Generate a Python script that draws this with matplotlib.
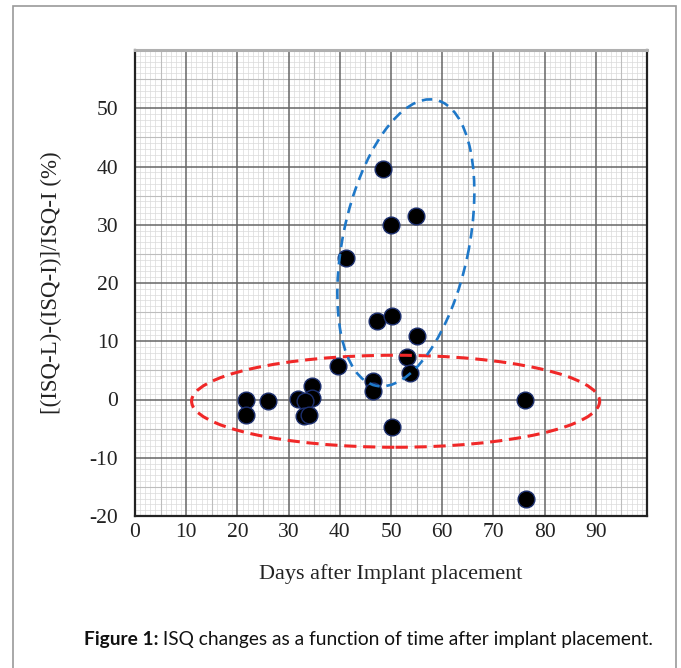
import matplotlib
matplotlib.use("Agg")
import matplotlib.pyplot as plt
from matplotlib.patches import Ellipse, Rectangle
from matplotlib.transforms import Affine2D, IdentityTransform
import numpy as np

# ---- data ----
days = [48.5, 50.0, 54.8, 41.3, 47.2, 50.1, 55.0, 53.2, 39.6, 53.7, 46.4, 46.4,
        21.7, 21.7, 26.0, 31.8, 34.6, 34.6, 33.3, 33.0, 34.0, 50.1, 76.1, 76.3]
isq_change = [39.6, 30.0, 31.5, 24.3, 13.4, 14.4, 10.9, 7.3, 5.8, 4.5, 3.2, 1.5,
              0.0, -2.7, -0.3, 0.1, 2.3, 0.2, -0.3, -2.9, -2.6, -4.7, 0.0, -17.0]
x_ticks = [0, 10, 20, 30, 40, 50, 60, 70, 80, 90]
y_ticks = [-20, -10, 0, 10, 20, 30, 40, 50]
xlabel = "Days after Implant placement"
ylabel = "[(ISQ-L)-(ISQ-I)]/ISQ-I (%)"
caption_bold = "Figure 1:"
caption_rest = " ISQ changes as a function of time after implant placement."

W, H = 681, 668
fig = plt.figure(figsize=(W / 100, H / 100), dpi=100)

# outer frame
fig.patches.append(Rectangle((13 / W, -0.01), (676 - 13) / W, 1.01 - 6 / H,
                             transform=fig.transFigure, fill=False,
                             edgecolor="#9a9a9a", linewidth=1.2))

L, R, T, B = 135, 647, 50, 516
ax = fig.add_axes([L / W, 1 - B / H, (R - L) / W, (B - T) / H])
ax.set_xlim(0, 100)
ax.set_ylim(-20, 60)

# graph-paper grid
ax.set_xticks(x_ticks)
ax.set_yticks(y_ticks)
ax.set_xticks(np.arange(0, 101, 1), minor=True)
ax.set_yticks(np.arange(-20, 61, 1), minor=True)
ax.grid(which="minor", color="#dadada", linewidth=0.5)
for v in range(5, 100, 10):
    ax.axvline(v, color="#bdbdbd", linewidth=0.8, zorder=0.6)
for v in range(-15, 60, 10):
    ax.axhline(v, color="#bdbdbd", linewidth=0.8, zorder=0.6)
for v in range(10, 100, 10):
    ax.axvline(v, color="#666666", linewidth=1.1, zorder=0.7)
for v in range(-10, 60, 10):
    ax.axhline(v, color="#666666", linewidth=1.1, zorder=0.7)
ax.set_axisbelow(True)

for s in ["left", "bottom", "right"]:
    ax.spines[s].set_color("#222222")
    ax.spines[s].set_linewidth(1.6)
ax.spines["top"].set_color("#b0b0b0")
ax.spines["top"].set_linewidth(2.2)

serif = ["Liberation Serif", "DejaVu Serif"]
ax.tick_params(which="both", length=0)
ax.tick_params(axis="y", pad=12)
ax.tick_params(axis="x", pad=5)
ax.set_xticklabels([str(t) for t in x_ticks], family=serif, fontsize=15.5, color="#222222")
ax.set_yticklabels([str(t) for t in y_ticks], family=serif, fontsize=15.5, color="#222222")
ax.set_xlabel(xlabel, family=serif, fontsize=16, color="#222222", labelpad=16)
ax.set_ylabel(ylabel, family=serif, fontsize=16.5, color="#222222", labelpad=20)

# points
ax.scatter(days, isq_change, s=145, color="black", edgecolors="#1c2f6e",
           linewidths=1.0, zorder=3)

# ellipses drawn in pixel space so shapes match the picture
fig.canvas.draw()

def pix_ellipse(cx, cy, a, b, ang, color, lw, dashes):
    px, py = ax.transData.transform((cx, cy))
    e = Ellipse((0, 0), 2 * a, 2 * b, angle=ang, fill=False, edgecolor=color,
                linewidth=lw, linestyle=(0, dashes),
                transform=Affine2D().translate(px, py) + IdentityTransform(),
                zorder=4)
    e.set_clip_on(False)
    fig.add_artist(e)

pix_ellipse(50.9, -0.3, 204, 46, 0, "#f02828", 2.2, (4, 2.2))
pix_ellipse(52.9, 26.9, 146, 63, 78.2, "#1f78c8", 1.9, (4, 2.6))

# caption
cap_font = ["Lato", "DejaVu Sans"]
t1 = fig.text(84 / W, 1 - 640 / H, caption_bold, family=cap_font,
              fontsize=13.8, fontweight="bold", va="center", ha="left", color="#111111")
fig.canvas.draw()
bb = t1.get_window_extent()
fig.text(bb.x1 / W, 1 - 640 / H, caption_rest, family=cap_font,
         fontsize=13.8, va="center", ha="left", color="#111111")

fig.savefig("out.png", dpi=100)
